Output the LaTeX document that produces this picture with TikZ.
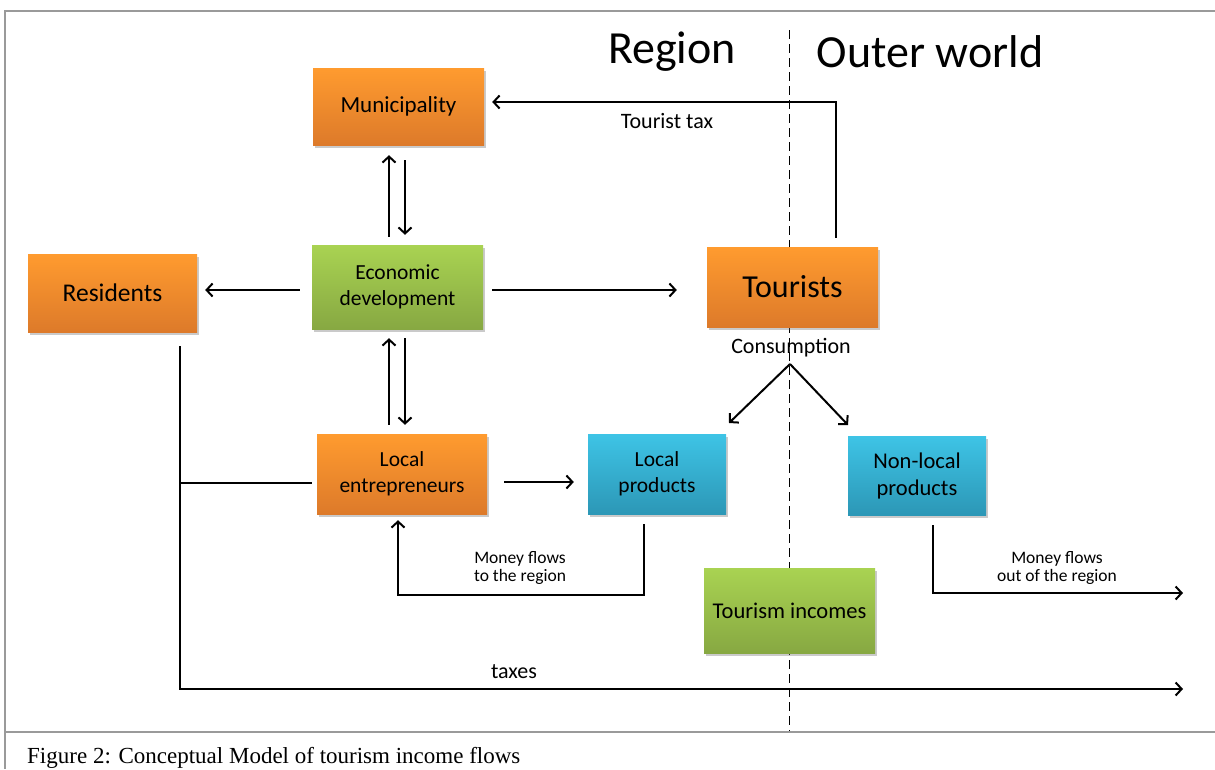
\documentclass[tikz,border=0pt]{standalone}
\usepackage{fontspec}
\setmainfont{Carlito}
\newfontfamily\capfont{Liberation Serif}
\usetikzlibrary{arrows.meta,shadows,calc}
\definecolor{orT}{HTML}{FF9B2F}
\definecolor{orB}{HTML}{DD7A2A}
\definecolor{grT}{HTML}{A9D352}
\definecolor{grB}{HTML}{87A842}
\definecolor{blT}{HTML}{3EC4E6}
\definecolor{blB}{HTML}{2C97B6}
\definecolor{frame}{HTML}{9A9A9A}
\tikzset{
  box/.style={rectangle, align=center, inner sep=2pt,
    drop shadow={shadow xshift=1.5pt, shadow yshift=-2.5pt, opacity=0.35, fill=black!60}},
  orangebox/.style={box, top color=orT, bottom color=orB},
  greenbox/.style={box, top color=grT, bottom color=grB},
  bluebox/.style={box, top color=blT, bottom color=blB},
  flow/.style={line width=2pt, -{Straight Barb[length=6pt,width=13pt,line width=2pt]}},
  plain/.style={line width=2pt},
  boxfont/.style={font=\fontsize{21.5}{26.5}\selectfont},
  lbl/.style={font=\fontsize{22}{24}\selectfont, inner sep=0pt},
  smlbl/.style={font=\fontsize{17.5}{18.5}\selectfont, inner sep=0pt, align=center},
  heading/.style={inner sep=0pt, font=\fontsize{46}{52}\selectfont},
}
\begin{document}
\begin{tikzpicture}[x=1pt,y=-1pt]
\useasboundingbox (0,0) rectangle (1215,769);
% frame
\draw[frame, line width=1.5pt] (1215,11) -- (5,11) -- (5,769);
\draw[frame, line width=1.5pt] (5,732) -- (1215,732);
\node[anchor=west, inner sep=0pt, font=\capfont\fontsize{23}{24}\selectfont] (cap) at (27,758) {Figure 2: Conceptual Model of tourism income flows};
% dashed divider
\coordinate (dtop) at (789,30);
\coordinate (dbot) at (789,731);
\draw[dash pattern=on 9pt off 5pt, line width=1pt] (dtop) -- (dbot);
\node[heading] (region) at (672,52) {Region};
\node[heading] (outer) at (930,52) {Outer world};
% boxes
\node[orangebox, minimum width=171pt, minimum height=77pt, font=\fontsize{23}{27}\selectfont] (mun) at (398.5,106.5) {Municipality};
\node[orangebox, minimum width=169pt, minimum height=78pt, font=\fontsize{25.5}{30}\selectfont] (res) at (112.5,293) {Residents};
\node[greenbox, boxfont, minimum width=171pt, minimum height=84pt] (eco) at (397.5,287) {Economic\\development};
\node[orangebox, minimum width=171pt, minimum height=80pt, font=\fontsize{32}{36}\selectfont] (tou) at (792.5,287) {Tourists};
\node[orangebox, boxfont, minimum width=170pt, minimum height=80pt] (ent) at (402,474) {Local\\entrepreneurs};
\node[bluebox, boxfont, minimum width=138pt, minimum height=80pt] (lp) at (657,474) {Local\\products};
\node[bluebox, minimum width=138pt, minimum height=79pt, font=\fontsize{22.5}{27}\selectfont] (nlp) at (917,475.5) {Non-local\\products};
\node[greenbox, minimum width=171pt, minimum height=85pt, font=\fontsize{22.5}{27}\selectfont] (inc) at (789.5,610.5) {Tourism incomes};
% Municipality <-> Economic development
\draw[flow] ($(eco.north)+(-8.5,-8)$) -- ($(mun.south)+(-9.5,10)$);
\draw[flow] ($(mun.south)+(6.5,15)$) -- ($(eco.north)+(7.5,-10)$);
% Economic development <-> Local entrepreneurs
\draw[flow] ($(ent.north)+(-13,-9)$) -- ($(eco.south)+(-8.5,9)$);
\draw[flow] ($(eco.south)+(7.5,9)$) -- ($(ent.north)+(3,-9)$);
% Economic development -> Residents / Tourists
\draw[flow] ($(eco.west)+(-12,3)$) -- ($(res.east)+(8,-3)$);
\draw[flow] ($(eco.east)+(9,3)$) -- ($(tou.west)+(-30,3)$);
% Tourist tax
\coordinate (tt1) at (836,102);
\draw[flow] ($(tou.north)+(43.5,-9)$) -- (tt1) -- ($(mun.east)+(8,-4.5)$);
\node[lbl] (ttl) at (667,121) {Tourist tax};
% Consumption
\node[lbl] (cons) at (791,348) {Consumption};
\coordinate (csplit) at (790,364);
\draw[flow] (csplit) -- (729,423);
\draw[flow] (csplit) -- (848,425);
% Local entrepreneurs -> Local products
\draw[flow] ($(ent.east)+(17,8)$) -- ($(lp.west)+(-14,8)$);
% Money flows to the region
\coordinate (m1) at (644,595);
\coordinate (m2) at (398,595);
\draw[flow] ($(lp.south)+(-13,10)$) -- (m1) -- (m2) -- ($(ent.south)+(-4,6)$);
\node[smlbl] (mfr) at (520,568) {Money flows\\to the region};
% Money flows out of the region
\coordinate (n1) at (933,593);
\coordinate (n1end) at (1183,593);
\draw[flow] ($(nlp.south)+(16,10)$) -- (n1) -- (n1end);
\node[smlbl] (mfo) at (1057,568) {Money flows\\out of the region};
% Residents taxes
\coordinate (r1) at (180,346);
\coordinate (r2) at (180,689);
\coordinate (r3) at (1183,689);
\coordinate (rb) at (180,483);
\draw[flow] (r1) -- (r2) -- (r3);
\draw[plain] (rb) -- ($(ent.west)+(-5,9)$);
\node[lbl] (taxl) at (514,672) {taxes};
\end{tikzpicture}
\end{document}
